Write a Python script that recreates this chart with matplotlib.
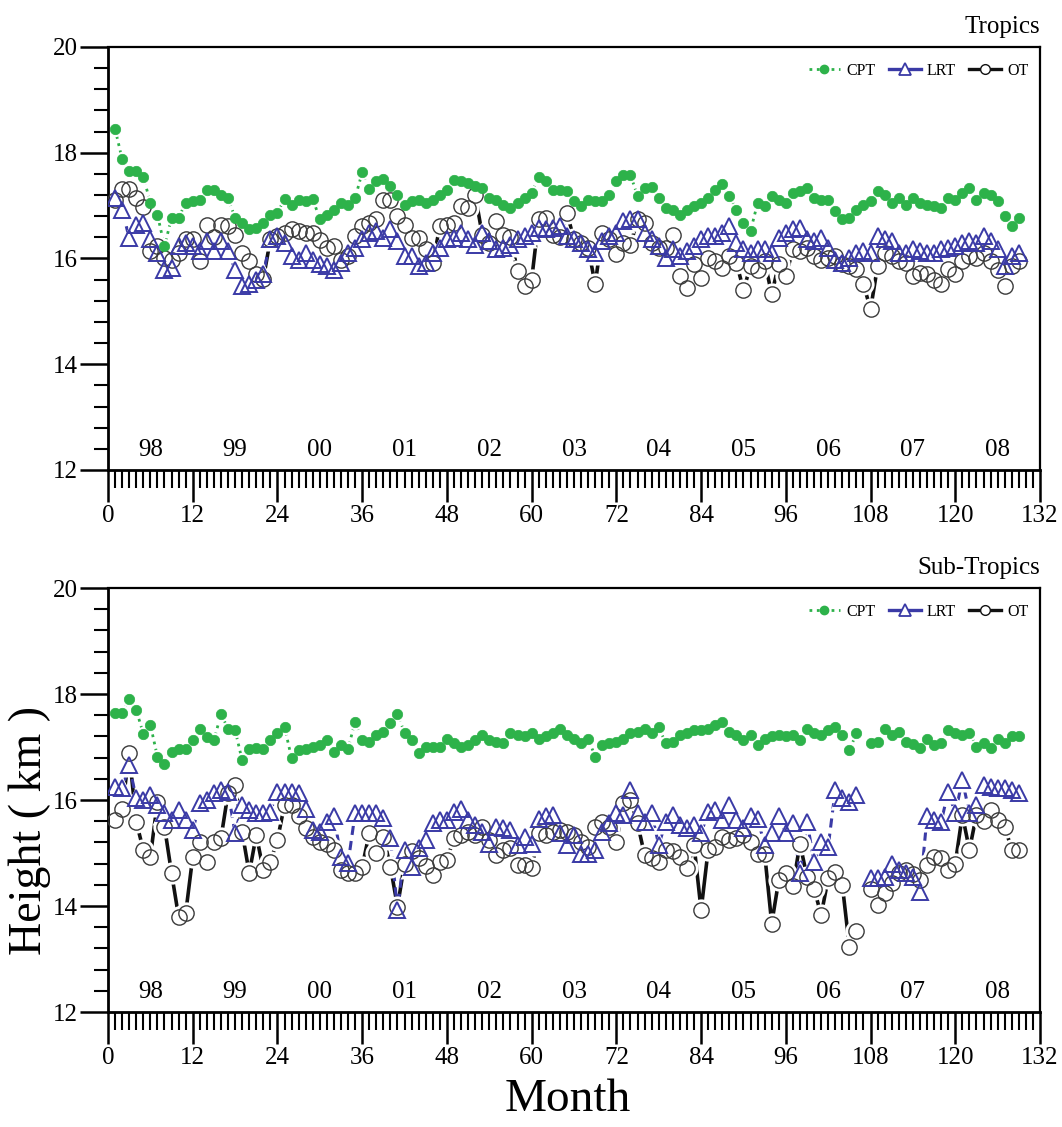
import numpy as np
import matplotlib
matplotlib.use('Agg')
import matplotlib.pyplot as plt
from matplotlib.ticker import MultipleLocator
from matplotlib.lines import Line2D

plt.rcParams['font.family'] = ['Liberation Serif', 'DejaVu Serif']

months = np.arange(1, 130)
year_labels = ['98', '99', '00', '01', '02', '03', '04', '05', '06', '07', '08']
xticks = list(range(0, 133, 12))

trop_cpt = [18.45, 17.88, 17.65, 17.65, 17.55, 17.05, 16.83, 16.23, 16.77, 16.77,
            17.05, 17.08, 17.11, 17.30, 17.30, 17.21, 17.14, 16.77, 16.67, 16.55,
            16.58, 16.67, 16.83, 16.86, 17.13, 17.02, 17.11, 17.08, 17.13, 16.74,
            16.83, 16.92, 17.05, 17.02, 17.14, 17.63, 17.31, 17.47, 17.50, 17.38,
            17.21, 17.02, 17.08, 17.11, 17.05, 17.11, 17.20, 17.30, 17.49, 17.46,
            17.43, 17.38, 17.33, 17.14, 17.11, 17.02, 16.96, 17.05, 17.14, 17.24,
            17.55, 17.46, 17.30, 17.30, 17.27, 17.08, 16.99, 17.11, 17.08, 17.08,
            17.21, 17.46, 17.58, 17.58, 17.18, 17.33, 17.36, 17.14, 16.96, 16.92,
            16.83, 16.92, 16.99, 17.05, 17.14, 17.30, 17.40, 17.18, 16.92, 16.67,
            16.52, 17.05, 16.99, 17.18, 17.11, 17.05, 17.24, 17.27, 17.33, 17.14,
            17.11, 17.11, 16.89, 16.74, 16.77, 16.92, 17.02, 17.08, 17.27, 17.21,
            17.05, 17.14, 17.02, 17.14, 17.05, 17.02, 16.99, 16.96, 17.14, 17.11,
            17.24, 17.33, 17.11, 17.24, 17.21, 17.08, 16.80, 16.61, 16.77]

trop_lrt = [17.14, 16.92, 16.39, 16.64, 16.67, 16.36, 16.11, 15.79, 15.82, 16.23,
            16.30, 16.23, 16.14, 16.33, 16.14, 16.33, 16.14, 15.79, 15.48, 15.51,
            15.60, 15.70, 16.36, 16.42, 16.30, 16.04, 15.98, 16.11, 15.98, 15.89,
            15.86, 15.79, 15.92, 16.11, 16.20, 16.36, 16.48, 16.52, 16.39, 16.55,
            16.33, 16.04, 16.04, 15.85, 15.92, 16.11, 16.20, 16.36, 16.39, 16.48,
            16.36, 16.26, 16.48, 16.33, 16.17, 16.20, 16.26, 16.36, 16.42, 16.48,
            16.58, 16.55, 16.58, 16.61, 16.42, 16.36, 16.30, 16.17, 16.11, 16.33,
            16.42, 16.48, 16.70, 16.74, 16.74, 16.48, 16.36, 16.23, 16.01, 16.17,
            16.04, 16.14, 16.23, 16.36, 16.42, 16.42, 16.48, 16.61, 16.30, 16.17,
            16.11, 16.17, 16.17, 16.11, 16.39, 16.48, 16.55, 16.58, 16.36, 16.33,
            16.39, 16.20, 15.98, 15.92, 16.01, 16.11, 16.14, 16.11, 16.42, 16.36,
            16.33, 16.11, 16.11, 16.17, 16.14, 16.11, 16.11, 16.17, 16.20, 16.23,
            16.30, 16.33, 16.30, 16.42, 16.33, 16.17, 15.86, 16.04, 16.11]

trop_ot = [17.11, 17.31, 17.31, 17.14, 16.97, 16.14, 16.23, 16.00, 15.98, 16.10,
           16.36, 16.36, 15.95, 16.64, 16.40, 16.64, 16.61, 16.45, 16.11, 15.95,
           15.70, 15.62, 16.36, 16.42, 16.48, 16.55, 16.52, 16.48, 16.48, 16.35,
           16.20, 16.23, 15.98, 16.04, 16.42, 16.61, 16.67, 16.74, 17.11, 17.11,
           16.80, 16.64, 16.39, 16.39, 16.17, 15.92, 16.61, 16.64, 16.67, 16.99,
           16.96, 17.21, 16.45, 16.30, 16.70, 16.45, 16.40, 15.76, 15.48, 15.60,
           16.74, 16.77, 16.45, 16.40, 16.86, 16.36, 16.30, 16.20, 15.51, 16.48,
           16.36, 16.08, 16.30, 16.26, 16.74, 16.67, 16.30, 16.20, 16.20, 16.45,
           15.67, 15.45, 15.90, 15.64, 16.01, 15.95, 15.82, 16.05, 15.92, 15.41,
           15.85, 15.79, 15.95, 15.32, 15.90, 15.67, 16.17, 16.14, 16.20, 16.05,
           15.98, 16.00, 16.04, 15.90, 15.86, 15.80, 15.51, 15.04, 15.86, 16.10,
           16.05, 15.95, 15.92, 15.67, 15.73, 15.70, 15.60, 15.51, 15.80, 15.70,
           15.95, 16.04, 16.01, 16.10, 15.95, 15.79, 15.48, 15.85, 15.95]

sub_cpt = [17.65, 17.65, 17.90, 17.70, 17.25, 17.42, 16.82, 16.68, 16.91, 16.97,
           16.97, 17.13, 17.35, 17.19, 17.13, 17.62, 17.35, 17.32, 16.75, 16.96,
           16.99, 16.97, 17.13, 17.26, 17.38, 16.79, 16.94, 16.97, 17.01, 17.04,
           17.13, 16.91, 17.04, 16.97, 17.48, 17.13, 17.10, 17.23, 17.29, 17.45,
           17.62, 17.27, 17.13, 16.89, 17.01, 17.01, 17.01, 17.16, 17.07, 17.01,
           17.04, 17.13, 17.23, 17.13, 17.10, 17.07, 17.26, 17.23, 17.20, 17.26,
           17.16, 17.20, 17.26, 17.35, 17.23, 17.16, 17.07, 17.16, 16.82, 17.04,
           17.07, 17.10, 17.16, 17.26, 17.29, 17.35, 17.26, 17.38, 17.07, 17.10,
           17.23, 17.26, 17.32, 17.32, 17.35, 17.42, 17.48, 17.29, 17.23, 17.13,
           17.23, 17.04, 17.16, 17.20, 17.23, 17.20, 17.23, 17.13, 17.35, 17.26,
           17.23, 17.32, 17.38, 17.23, 16.94, 17.26, np.nan, 17.07, 17.10, 17.35,
           17.23, 17.29, 17.10, 17.05, 16.98, 17.16, 17.04, 17.07, 17.32, 17.26,
           17.23, 17.26, 17.01, 17.07, 16.98, 17.16, 17.07, 17.20, 17.20]

sub_lrt = [16.25, 16.22, 16.66, 16.03, 16.00, 16.09, 15.91, 15.75, 15.62, 15.81,
           15.62, 15.43, 15.94, 16.00, 16.13, 16.19, 16.16, 15.37, 15.91, 15.81,
           15.75, 15.75, 15.78, 16.16, 16.16, 16.16, 16.13, 15.84, 15.43, 15.40,
           15.59, 15.69, 14.93, 14.81, 15.75, 15.75, 15.75, 15.75, 15.66, 15.28,
           13.92, 15.06, 14.74, 15.10, 15.25, 15.56, 15.62, 15.62, 15.78, 15.84,
           15.62, 15.53, 15.40, 15.18, 15.50, 15.47, 15.43, 15.15, 15.31, 15.18,
           15.65, 15.69, 15.72, 15.37, 15.15, 15.34, 14.99, 14.99, 15.06, 15.40,
           15.56, 15.75, 15.72, 16.19, 15.75, 15.59, 15.75, 15.15, 15.59, 15.72,
           15.53, 15.47, 15.53, 15.37, 15.78, 15.81, 15.62, 15.91, 15.62, 15.47,
           15.69, 15.65, 15.15, 15.37, 15.69, 15.37, 15.56, 14.62, 15.59, 14.84,
           15.21, 15.12, 16.19, 16.03, 15.97, 16.09, np.nan, 14.52, 14.52, 14.55,
           14.80, 14.68, 14.62, 14.55, 14.27, 15.69, 15.62, 15.59, 16.16, 15.75,
           16.38, 15.75, 15.91, 16.28, 16.25, 16.22, 16.22, 16.19, 16.13]

sub_ot = [15.62, 15.84, 16.88, 15.59, 15.06, 14.93, 15.97, 15.50, 14.62, 13.80,
          13.86, 14.93, 15.20, 14.84, 15.21, 15.28, 16.13, 16.28, 15.40, 14.62,
          15.34, 14.68, 14.84, 15.25, 15.91, 15.91, 15.70, 15.47, 15.30, 15.21,
          15.18, 15.05, 14.68, 14.62, 14.62, 14.74, 15.37, 15.00, 15.31, 14.74,
          13.99, 14.80, 15.03, 14.90, 14.75, 14.59, 14.84, 14.87, 15.28, 15.34,
          15.40, 15.34, 15.50, 15.25, 14.96, 15.06, 15.09, 14.77, 14.77, 14.71,
          15.37, 15.34, 15.40, 15.43, 15.40, 15.34, 15.21, 15.12, 15.50, 15.59,
          15.50, 15.21, 15.94, 16.00, 15.56, 14.96, 14.90, 14.84, 15.06, 15.03,
          14.93, 14.71, 15.15, 13.92, 15.06, 15.12, 15.31, 15.25, 15.28, 15.34,
          15.20, 14.99, 14.99, 13.67, 14.49, 14.62, 14.37, 15.18, 14.55, 14.33,
          13.83, 14.52, 14.65, 14.40, 13.23, 13.52, np.nan, 14.33, 14.02, 14.24,
          14.43, 14.62, 14.68, 14.60, 14.49, 14.77, 14.93, 14.90, 14.68, 14.80,
          15.72, 15.06, 15.72, 15.60, 15.81, 15.62, 15.50, 15.06, 15.06]

GREEN = '#2db24a'
BLUE = '#3a3aa6'
BLACK = '#111111'
CIRC = '#3a3a3a'

fig = plt.figure(figsize=(10.62, 11.27), dpi=100)
ax1 = fig.add_axes([0.1017, 0.5830, 0.8776, 0.3753])
ax2 = fig.add_axes([0.1017, 0.1020, 0.8776, 0.3762])


def draw(ax, cpt, lrt, ot, title):
    x = months
    ax.plot(x, ot, '-', color=BLACK, lw=2.6, zorder=1)
    ax.plot(x, lrt, '--', color=BLUE, lw=2.2, dashes=(3, 2), zorder=1)
    ax.plot(x, cpt, ':', color=GREEN, lw=2.0, zorder=1)
    # white masks (larger than the symbols) so connecting lines only show at big jumps
    ax.plot(x, ot, 'o', ms=16, mfc='white', mec='none', ls='none', zorder=2)
    ax.plot(x, lrt, '^', ms=17, mfc='white', mec='none', ls='none', zorder=2)
    ax.plot(x, cpt, 'o', ms=11, mfc='white', mec='none', ls='none', zorder=2)
    # hollow symbols
    ax.plot(x, ot, 'o', ms=11, mfc='none', mec=CIRC, mew=1.0, ls='none', zorder=3)
    ax.plot(x, lrt, '^', ms=11.5, mfc='none', mec=BLUE, mew=1.4, ls='none', zorder=4)
    ax.plot(x, cpt, 'o', ms=7.5, mfc=GREEN, mec=GREEN, mew=0.5, ls='none', zorder=5)

    ax.set_xlim(0, 132)
    ax.set_ylim(12, 20)
    ax.set_xticks(xticks)
    ax.xaxis.set_minor_locator(MultipleLocator(1))
    ax.set_yticks([12, 14, 16, 18, 20])
    ax.yaxis.set_minor_locator(MultipleLocator(0.4))
    ax.tick_params(axis='x', which='major', direction='out', length=23, width=1.8,
                   labelsize=18, pad=2, top=False)
    ax.tick_params(axis='x', which='minor', direction='out', length=13, width=1.5, top=False)
    ax.tick_params(axis='y', which='major', direction='out', length=20, width=1.8,
                   labelsize=18, pad=2, right=False)
    ax.tick_params(axis='y', which='minor', direction='out', length=10, width=1.5, right=False)
    for s in ['left', 'bottom']:
        ax.spines[s].set_linewidth(2.0)
    for s in ['top', 'right']:
        ax.spines[s].set_linewidth(1.6)

    for i, lab in enumerate(year_labels):
        ax.text(6 + 12 * i, 12.38, lab, ha='center', va='center', fontsize=18)

    ax.set_title(title, loc='right', fontsize=18, pad=10)

    handles = [
        Line2D([], [], color=GREEN, ls=':', lw=2, marker='o', ms=6, mfc=GREEN, mec=GREEN),
        Line2D([], [], color=BLUE, ls='-', lw=2.4, marker='^', ms=8, mfc='white', mec=BLUE, mew=1.3),
        Line2D([], [], color=BLACK, ls='-', lw=2.4, marker='o', ms=7, mfc='white', mec=BLACK, mew=1.0),
    ]
    ax.legend(handles, ['CPT', 'LRT', 'OT'], loc='upper right', bbox_to_anchor=(0.998, 0.985),
              ncol=3, frameon=False, fontsize=11.5, handlelength=2.0, handletextpad=0.4,
              columnspacing=0.8, borderaxespad=0.2)


draw(ax1, trop_cpt, trop_lrt, trop_ot, 'Tropics')
draw(ax2, sub_cpt, sub_lrt, sub_ot, 'Sub-Tropics')

fig.text(0.028, 0.2635, 'Height ( km )', rotation=90, ha='center', va='center', fontsize=33)
fig.text(0.535, 0.024, 'Month', ha='center', va='center', fontsize=34)

fig.savefig('out.png', dpi=100)
